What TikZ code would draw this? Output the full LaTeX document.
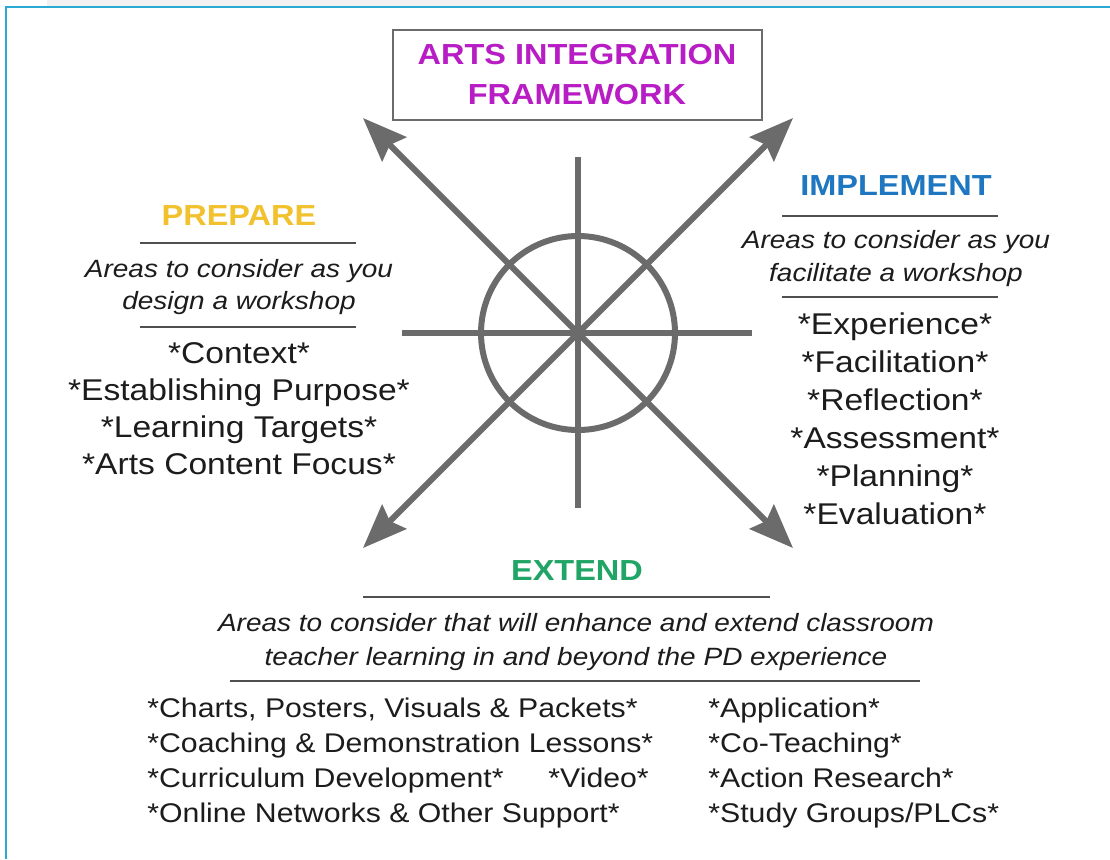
\documentclass[tikz,border=0pt]{standalone}
\usepackage{fontspec}
\setmainfont{Liberation Sans}[FakeStretch=1.12]
\usepackage{xcolor}
\usepackage{tikz}
\usetikzlibrary{arrows.meta}
\definecolor{AifMagenta}{HTML}{B81CC4}
\definecolor{AifGold}{HTML}{F2C12E}
\definecolor{AifBlue}{HTML}{1E77C0}
\definecolor{AifGreen}{HTML}{21A566}
\definecolor{AifGray}{HTML}{6B6B6B}
\definecolor{AifRule}{HTML}{505050}
\definecolor{AifText}{HTML}{1C1C1C}
\definecolor{AifFrame}{HTML}{2AAAD3}
\definecolor{AifStrip}{HTML}{F1F1F1}

\begin{document}
\begin{tikzpicture}[x=0.5pt, y=-0.5pt,
    spoke/.style={AifGray, line width=3pt},
    ray/.style={spoke, -{Stealth[length=22pt, width=17pt, inset=3pt]}},
    head/.style={font=\fontsize{14.5}{17}\selectfont\bfseries, anchor=base, inner sep=0pt},
    note/.style={font=\fontsize{12.5}{15}\selectfont\itshape, text=AifText, anchor=base, inner sep=0pt},
    item/.style={font=\fontsize{15}{18}\selectfont, text=AifText, anchor=base, inner sep=0pt},
    extra/.style={font=\fontsize{13.5}{16}\selectfont, text=AifText, anchor=base west, inner sep=0pt},
    rule/.style={AifRule, line width=1pt}]
  \useasboundingbox (0,0) rectangle (1110,859);
  % page frame
  \fill[white] (0,0) rectangle (1110,859);
  \fill[AifStrip] (47,0) rectangle (1080,6);
  \draw[AifFrame, line width=1.25pt] (1110,7) -- (6,7) -- (6,859);

  % title box
  \node[draw=AifGray, line width=1pt, minimum width=184.5pt, minimum height=45pt,
        align=center, inner sep=0pt, text=AifMagenta,
        font=\fontsize{14.5}{20}\selectfont\bfseries] (title) at (577,75)
        {ARTS INTEGRATION\\FRAMEWORK};

  % wheel
  \coordinate (hub) at (578,333);
  \coordinate (hubN) at (578,157);
  \coordinate (hubS) at (578,508);
  \coordinate (hubW) at (402,333);
  \coordinate (hubE) at (752,333);
  \draw[spoke] (hub) circle[radius=48.5pt];
  \draw[spoke] (hubN) -- (hubS);
  \draw[spoke] (hubW) -- (hubE);
  \foreach \n/\dx/\dy in {NW/-215/-215, NE/215/-215, SW/-215/215, SE/215/215}{
    \coordinate (tip\n) at ({578+(\dx)},{333+(\dy)});
    \draw[ray] (hub) -- (tip\n);}

  % prepare
  \node[head, text=AifGold] (prepare) at (239,225) {PREPARE};
  \draw[rule] (140,243) -- (356,243);
  \node[note] (prepNoteA) at (239,277) {Areas to consider as you};
  \node[note] (prepNoteB) at (239,309) {design a workshop};
  \draw[rule] (140,327) -- (356,327);
  \foreach \txt [count=\i] in {*Context*, *Establishing Purpose*, *Learning Targets*, *Arts Content Focus*}
    \node[item] (prep\i) at (239,{326+37*\i}) {\txt};

  % implement
  \node[head, text=AifBlue] (implement) at (896,195) {IMPLEMENT};
  \draw[rule] (782,216) -- (998,216);
  \node[note] (implNoteA) at (896,248) {Areas to consider as you};
  \node[note] (implNoteB) at (896,281) {facilitate a workshop};
  \draw[rule] (782,297) -- (998,297);
  \foreach \txt [count=\i] in {*Experience*, *Facilitation*, *Reflection*, *Assessment*, *Planning*, *Evaluation*}
    \node[item] (impl\i) at (895,{296+38*\i}) {\txt};

  % extend
  \node[head, text=AifGreen] (extend) at (577,580) {EXTEND};
  \draw[rule] (363,597) -- (770,597);
  \node[note] (extNoteA) at (576,631) {Areas to consider that will enhance and extend classroom};
  \node[note] (extNoteB) at (576,665) {teacher learning in and beyond the PD experience};
  \draw[rule] (230,681) -- (920,681);
  \foreach \txt [count=\i] in {{*Charts, Posters, Visuals \& Packets*}, {*Coaching \& Demonstration Lessons*},
                               {*Curriculum Development*}, {*Online Networks \& Other Support*}}
    \node[extra] (extL\i) at (147,{682+35*\i}) {\txt};
  \node[extra] (extVideo) at (548,787) {*Video*};
  \foreach \txt [count=\i] in {*Application*, *Co-Teaching*, *Action Research*, *Study Groups/PLCs*}
    \node[extra] (extR\i) at (708,{682+35*\i}) {\txt};
\end{tikzpicture}
\end{document}
